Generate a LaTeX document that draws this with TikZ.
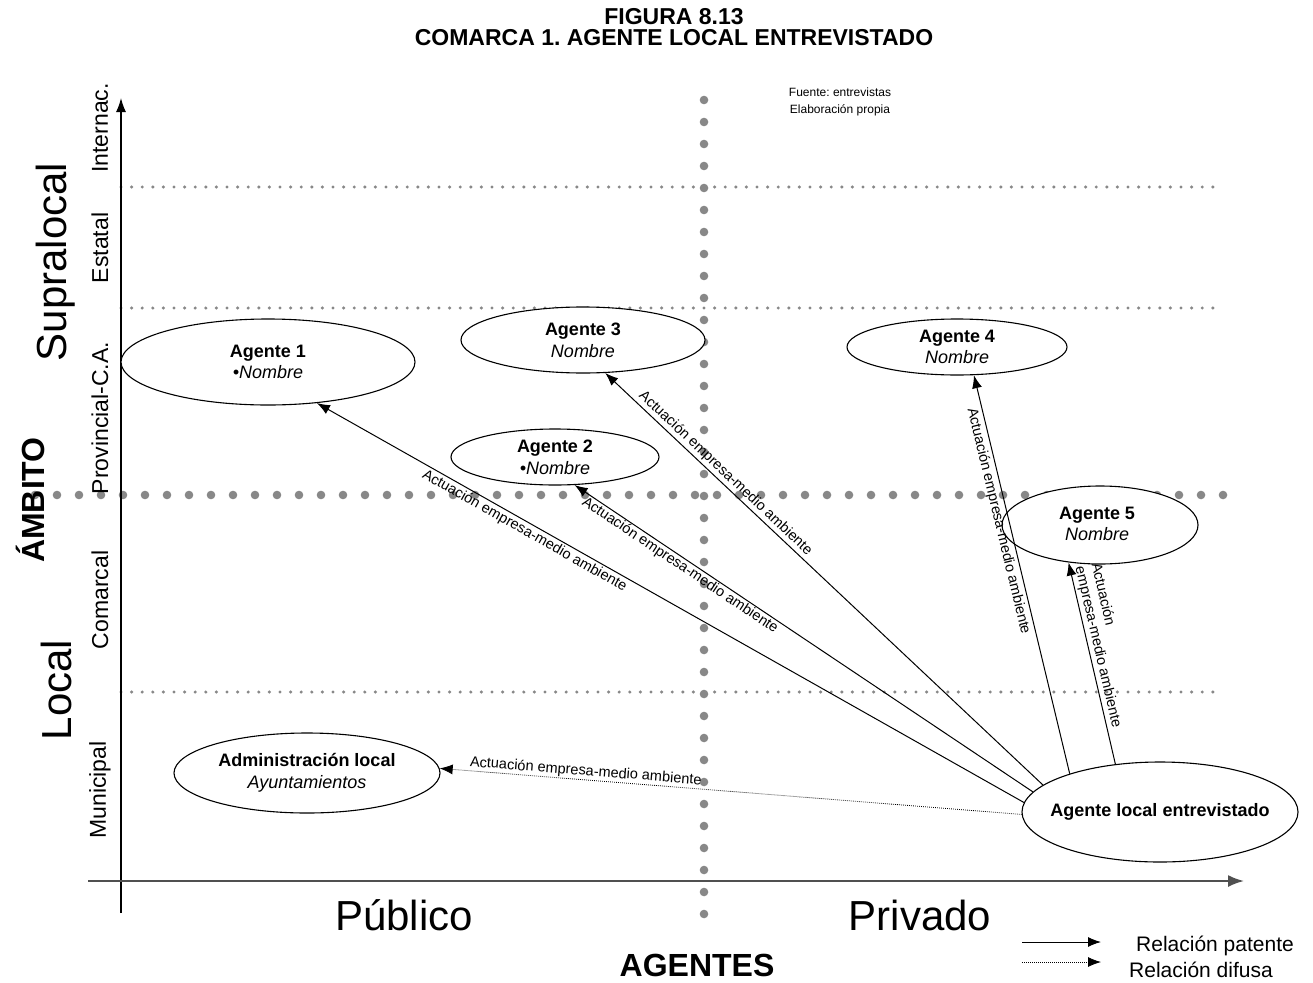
\documentclass[tikz,border=0pt]{standalone}
\usepackage{fontspec}
\setmainfont{Liberation Sans}
\usetikzlibrary{shapes.geometric,arrows.meta}
\definecolor{dotgray}{RGB}{136,136,136}
\definecolor{axisgray}{RGB}{80,80,80}
\frenchspacing
\begin{document}
\begin{tikzpicture}[x=1pt,y=-1pt,
  ell/.style={draw, fill=white, ellipse, line width=1.1pt, inner sep=0pt},
  lbl/.style={font=\fontsize{18}{21.6}\selectfont, align=center, inner sep=0pt},
  rel/.style={font=\fontsize{14.5}{16.5}\selectfont, sloped, inner sep=2pt, align=center},
  patente/.style={line width=1pt, -{Latex[length=13pt,width=10pt]}},
  difusa/.style={line width=0.8pt, dash pattern=on 0.8pt off 1.2pt, -{Latex[length=13pt,width=10pt]}},
  smalldots/.style={dotgray, line width=3.4pt, line cap=round, dash pattern=on 0pt off 10.6pt},
  bigdots/.style={dotgray, line width=8.6pt, line cap=round, dash pattern=on 0pt off 22pt},
  vlab/.style={rotate=90, font=\fontsize{23}{26}\selectfont, inner sep=0pt},
  biglab/.style={font=\fontsize{42}{48}\selectfont, inner sep=0pt}
]
\useasboundingbox (0,0) rectangle (1313,982);

% grid lines
\draw[smalldots] (121,187) -- (1217,187);
\draw[smalldots] (121,308) -- (1217,308);
\draw[smalldots] (121,692) -- (1217,692);
\draw[bigdots] (35,495) -- (1235,495);
\draw[bigdots] (704,100) -- (704,915);

% axes
\draw[line width=1.3pt, -{Latex[length=14pt,width=10pt]}] (121,913) -- (121,98);
\draw[axisgray, line width=2pt, -{Latex[length=16pt,width=12pt]}] (88,881) -- (1244,881);

% title and source
\node[font=\bfseries\fontsize{23}{21}\selectfont, align=center, inner sep=0pt] (title) at (674,27) {FIGURA 8.13\\COMARCA 1. AGENTE LOCAL ENTREVISTADO};
\node[font=\fontsize{12}{16.5}\selectfont, align=center, inner sep=0pt] (src) at (840,102) {Fuente: entrevistas\\Elaboración propia};

% axis labels
\node[vlab] (l-int) at (100,128) {Internac.};
\node[vlab] (l-est) at (100,248) {Estatal};
\node[vlab] (l-prov) at (100,418) {Provincial-C.A.};
\node[vlab] (l-com) at (100,600) {Comarcal};
\node[vlab] (l-mun) at (100,790) {Municipal};
\node[biglab, rotate=90] (l-sup) at (56,262) {Supralocal};
\node[biglab, rotate=90] (l-loc) at (56,690) {Local};
\node[rotate=90, font=\bfseries\fontsize{32}{36}\selectfont, inner sep=0pt] (l-amb) at (30,500) {ÁMBITO};
\node[biglab] (l-pub) at (404,915) {Público};
\node[biglab] (l-pri) at (920,915) {Privado};
\node[font=\bfseries\fontsize{32}{36}\selectfont, inner sep=0pt] (l-age) at (697,965) {AGENTES};

% ellipses
\node[ell, minimum width=294pt, minimum height=86pt] (a1) at (268,362) {};
\node[lbl] (a1t) at (a1) {\textbf{Agente 1}\\\textit{•Nombre}};
\node[ell, minimum width=244pt, minimum height=66pt] (a3) at (583,340) {};
\node[lbl] (a3t) at (a3) {\textbf{Agente 3}\\\textit{Nombre}};
\node[ell, minimum width=208pt, minimum height=56pt] (a2) at (555,457) {};
\node[lbl] (a2t) at (a2) {\textbf{Agente 2}\\\textit{•Nombre}};
\node[ell, minimum width=220pt, minimum height=56pt] (a4) at (957,347) {};
\node[lbl] (a4t) at (a4) {\textbf{Agente 4}\\\textit{Nombre}};
\node[ell, minimum width=196pt, minimum height=78pt] (a5) at (1100,525) {};
\node[lbl] (a5t) at (1097,524) {\textbf{Agente 5}\\\textit{Nombre}};
\node[ell, minimum width=266pt, minimum height=80pt] (adm) at (307,773) {};
\node[lbl] (admt) at (adm) {\textbf{Administración local}\\\textit{Ayuntamientos}};
\node[ell, minimum width=276pt, minimum height=100pt] (loc) at (1160,812) {};
\node[lbl] (loct) at (loc) {\textbf{Agente local entrevistado}};

% relations
\draw[patente] (loc.176) -- node[rel, below, pos=0.70] {Actuación empresa-medio ambiente} (a1.-40);
\draw[patente] (loc.171) -- node[rel, below, pos=0.76, inner sep=1pt] {Actuación empresa-medio ambiente} (a2.-55);
\draw[patente] (loc.167) -- node[rel, above, pos=0.74] {Actuación empresa-medio ambiente} (a3.-56);
\draw[patente] (loc.157) -- node[rel, below, pos=0.64, inner sep=3pt] {Actuación empresa-medio ambiente} (a4.-59);
\draw[patente] (loc.133) -- node[rel, above, pos=0.57, inner sep=2pt, align=left] {Actuación\\empresa-medio ambiente} (a5.-130);
\draw[difusa] (loc.181) -- node[rel, above, pos=0.75, inner sep=1pt] {Actuación empresa-medio ambiente} (adm.2);

% legend
\coordinate (lp1) at (1022,942);
\coordinate (lp2) at (1101,942);
\coordinate (ld1) at (1022,962);
\coordinate (ld2) at (1101,962);
\draw[patente] (lp1) -- (lp2);
\draw[difusa] (ld1) -- (ld2);
\node[font=\fontsize{21}{24}\selectfont, anchor=west, inner sep=0pt] (lgp) at (1136,946) {Relación patente};
\node[font=\fontsize{21}{24}\selectfont, anchor=west, inner sep=0pt] (lgd) at (1129,970) {Relación difusa};
\end{tikzpicture}
\end{document}
